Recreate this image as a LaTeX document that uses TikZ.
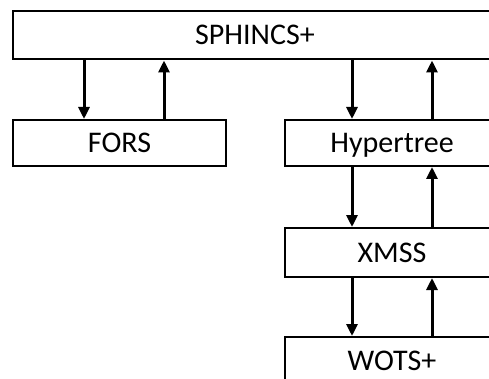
\documentclass[tikz,border=0pt]{standalone}
\usepackage{fontspec}
\setmainfont{Carlito}
\usetikzlibrary{positioning,arrows.meta}

\begin{document}
\begin{tikzpicture}[x=1pt,y=-1pt,
                    box/.style={draw,line width=2pt,inner sep=0pt,text height=19pt,text depth=0pt,
                                minimum width=214pt,minimum height=47pt,font=\fontsize{30}{36}\selectfont},
                    link/.style={line width=3pt,-{Triangle[length=12pt,width=11pt]}}
                   ]
  \useasboundingbox (0,0) rectangle (489,379);
  \clip (0,0) rectangle (489,379);

  \node[box,minimum width=484pt,minimum height=48pt] (sphincs) at (255,35.5) {SPHINCS+};
  \node[box,minimum width=213pt,minimum height=46pt] (fors) at (119.5,143) {FORS};
  \node[box,minimum height=46pt] (hyper) at (392,143) {Hypertree};
  \node[box,minimum height=49pt] (xmss) at (392,252.5) {XMSS};
  \node[box] (wots) at (392,360.5) {WOTS+};

  % down and up between layers
  \draw[link] (sphincs.south -| 84,0) -- (fors.north -| 84,0);
  \draw[link] (fors.north -| 164,0) -- (sphincs.south -| 164,0);
  \draw[link] (sphincs.south -| 352,0) -- (hyper.north -| 352,0);
  \draw[link] (hyper.north -| 432,0) -- (sphincs.south -| 432,0);
  \draw[link] (hyper.south -| 352,0) -- (xmss.north -| 352,0);
  \draw[link] (xmss.north -| 432,0) -- (hyper.south -| 432,0);
  \draw[link] (xmss.south -| 352,0) -- (wots.north -| 352,0);
  \draw[link] (wots.north -| 432,0) -- (xmss.south -| 432,0);

\end{tikzpicture}
\end{document}
